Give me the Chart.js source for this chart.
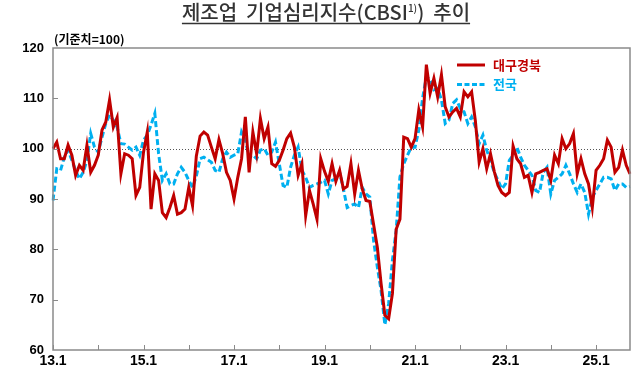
<!DOCTYPE html>
<html>
<head>
<meta charset="utf-8">
<script src="https://cdn.jsdelivr.net/npm/chart.js@4"></script>
<style>
  body { margin: 0; background: #fff; }
  #wrap { width: 640px; height: 371px; position: relative; }
</style>
</head>
<body>
<div id="wrap"><canvas id="myChart" width="640" height="371"></canvas></div>
<script>
// monthly 2013.1 ~ 2025.10
var months = [];
for (var yy = 13; yy <= 25; yy++) {
  for (var mm = 1; mm <= 12; mm++) {
    if (yy == 25 && mm > 10) break;
    months.push(yy + '.' + mm);
  }
}
var tickLabels = ['13.1', '15.1', '17.1', '19.1', '21.1', '23.1', '25.1'];
var yearTicks = ['13.1', '14.1', '15.1', '16.1', '17.1', '18.1', '19.1', '20.1', '21.1', '22.1', '23.1', '24.1', '25.1'];

var daeguGyeongbuk = [
  100, 101.3, 98, 98, 100.7, 98.7, 94.7, 96.7, 95.7, 100.7, 95.3, 96.7,
  98.7, 103.7, 105.3, 109.7, 104.3, 106.2, 95, 99, 98.7, 98, 90.7, 92.3,
  99.3, 103.3, 88, 95, 93.7, 87.3, 86.3, 88.3, 90.7, 87, 87.3, 88,
  92.3, 88.7, 98.5, 102.5, 103.3, 102.7, 100.3, 98, 101.8, 99, 95.3, 93.7,
  90, 94.3, 98, 106.3, 95.3, 103.3, 99, 106, 102, 104.3, 97, 96.5,
  97.7, 99.7, 102, 103.1, 100.3, 94.7, 97, 86.7, 91.7, 89, 86, 98,
  95.5, 93.5, 97, 93.5, 95.7, 92, 92.5, 97, 91, 95.7, 92, 89.7,
  89.5, 85, 80.4, 73.2, 66.9, 66.2, 71.2, 84, 86, 102.3, 102, 100.3,
  102, 107.7, 104.3, 116.7, 111, 114, 110.3, 114.7, 108.3, 106.3, 107.3, 108,
  106.3, 111.3, 110.3, 111.3, 105.5, 97.3, 100, 96, 99, 95.5, 92.7, 91.3,
  90.7, 91.3, 100.5, 98, 97, 94.3, 94.7, 91.3, 95, 95.3, 95.7, 96,
  93.7, 98.7, 97, 102, 100, 101, 103, 95, 98, 95, 93, 88.3,
  95.7, 96.7, 98, 101.7, 100.3, 95.3, 96.3, 99.7, 96.7, 95
];
var nationwide = [
  89.7, 96, 95.7, 98.3, 99.7, 97.7, 95.7, 94, 95.3, 97.7, 103, 100.3,
  99.3, 102.3, 105, 106.7, 105.7, 104.3, 101, 100.9, 100.3, 99.7, 100.3, 98.7,
  101.7, 102.7, 104.7, 107, 99, 93.7, 95, 93, 93, 95, 96.3, 95.3,
  93.7, 92.3, 94.5, 98, 98.3, 97.8, 97.3, 95.7, 95.3, 98, 99.3, 98.3,
  98.7, 99, 103.3, 101.7, 98.3, 98.7, 98, 99.7, 100, 98.7, 99.3, 101.3,
  97, 92.7, 92.3, 96.3, 98.7, 100.3, 95.7, 94.3, 92.3, 92.7, 93, 93.3,
  93.7, 91, 93.7, 94, 95.3, 92, 88.3, 88.7, 89, 88.3, 92.3, 91,
  90.4, 81.8, 76.5, 71.8, 65, 69.2, 77.8, 83.8, 94.4, 97, 98.7, 100.3,
  100.3, 103.7, 110, 114.3, 113.7, 111.7, 112, 109.7, 105, 105.7, 109, 109.7,
  108, 107.3, 105, 106.3, 104.3, 101, 102.7, 99.7, 97.7, 95.3, 93.7, 92,
  93, 97.7, 98.7, 100.3, 98.3, 96.7, 95.7, 94.7, 91.7, 91.3, 95.3, 96.3,
  91, 93.7, 94.3, 95, 96.7, 95, 93, 91.3, 93, 91.3, 87, 90.3,
  91.7, 93, 94.3, 94.3, 94, 91.7, 93, 93, 92.3, 92.5
];

var numFont = '"Liberation Sans", Arial, sans-serif';
var korFont = '"Noto Sans CJK KR", sans-serif';

// frame, ticks, 100 line, legend, title
var decor = {
  id: 'decor',
  beforeDatasetsDraw: function(chart) {
    var c = chart.ctx, a = chart.chartArea, y = chart.scales.y;
    var p = Math.round(y.getPixelForValue(100)) + 0.5;
    c.save();
    c.strokeStyle = '#555';
    c.lineWidth = 1;
    c.setLineDash([1, 2]);
    c.beginPath(); c.moveTo(a.left, p); c.lineTo(a.right, p); c.stroke();
    c.restore();
  },
  afterDraw: function(chart) {
    var c = chart.ctx, a = chart.chartArea, x = chart.scales.x, y = chart.scales.y;
    c.save();
    c.strokeStyle = '#8a8a8a';
    c.lineWidth = 1.5;
    c.strokeRect(a.left, a.top, a.right - a.left, a.bottom - a.top);
    c.lineWidth = 1;
    c.beginPath();
    [70, 80, 90, 100, 110].forEach(function(v) {
      var py = Math.round(y.getPixelForValue(v)) + 0.5;
      c.moveTo(a.left, py); c.lineTo(a.left + 5, py);
    });
    yearTicks.forEach(function(t) {
      var px = Math.round(x.getPixelForValue(months.indexOf(t))) + 0.5;
      c.moveTo(px, a.bottom); c.lineTo(px, a.bottom - 5);
    });
    c.stroke();

    // legend
    var ds = chart.data.datasets;
    var ly = [65, 84.5];
    ds.forEach(function(d, k) {
      c.strokeStyle = d.borderColor;
      c.lineWidth = 3;
      c.setLineDash(k == 1 ? [5, 2.5] : []);
      c.beginPath(); c.moveTo(457, ly[k]); c.lineTo(485, ly[k]); c.stroke();
      c.setLineDash([]);
      c.fillStyle = d.borderColor;
      c.font = 'bold 13px ' + korFont;
      c.textBaseline = 'middle';
      c.textAlign = 'left';
      c.fillText(d.label, 493, ly[k]);
    });

    // title
    var t1 = '제조업  기업심리지수(CBSI', sup = '1)', t2 = ')  추이';
    c.fillStyle = '#333';
    c.textBaseline = 'alphabetic';
    c.font = '500 20px ' + korFont;
    var w1 = c.measureText(t1).width, w3 = c.measureText(t2).width;
    c.font = '500 10px ' + korFont;
    var w2 = c.measureText(sup).width;
    var x0 = 326 - (w1 + w2 + w3) / 2;
    c.font = '500 20px ' + korFont;
    c.fillText(t1, x0, 20);
    c.fillText(t2, x0 + w1 + w2, 20);
    c.font = '500 10px ' + korFont;
    c.fillText(sup, x0 + w1, 12);
    c.strokeStyle = '#333';
    c.lineWidth = 1.5;
    c.beginPath(); c.moveTo(x0, 23.5); c.lineTo(x0 + w1 + w2 + w3, 23.5); c.stroke();

    // unit
    c.fillStyle = '#000';
    c.font = 'bold 12px ' + korFont;
    c.textBaseline = 'middle';
    c.fillText('(기준치=100)', 54, 39);
    c.restore();
  }
};

var ctx = document.getElementById('myChart').getContext('2d');
var myChart = new Chart(ctx, {
  type: 'line',
  data: {
    labels: months,
    datasets: [{
      label: '대구경북',
      data: daeguGyeongbuk,
      borderColor: '#C00000',
      borderWidth: 3,
      pointRadius: 0,
      tension: 0
    }, {
      label: '전국',
      data: nationwide,
      borderColor: '#00B0F0',
      borderWidth: 3,
      borderDash: [6, 3],
      pointRadius: 0,
      tension: 0
    }]
  },
  options: {
    responsive: false,
    animation: false,
    layout: { padding: { top: 48, right: 10, left: 0, bottom: 0 } },
    plugins: {
      legend: { display: false },
      tooltip: { enabled: false }
    },
    scales: {
      x: {
        grid: { display: false, drawTicks: false },
        border: { display: false },
        afterFit: function(s) { s.height = 21; },
        ticks: {
          autoSkip: false,
          maxRotation: 0,
          padding: 3,
          color: '#000',
          font: { family: numFont, size: 14, weight: 'bold' },
          callback: function(v, i) {
            var l = months[i];
            return tickLabels.indexOf(l) >= 0 ? l : '';
          }
        }
      },
      y: {
        min: 60,
        max: 120,
        grid: { display: false, drawTicks: false },
        border: { display: false },
        afterFit: function(s) { s.width = 53; },
        ticks: {
          stepSize: 10,
          padding: 9,
          color: '#000',
          font: { family: numFont, size: 13, weight: 'bold' }
        }
      }
    }
  },
  plugins: [decor]
});
</script>
</body>
</html>
